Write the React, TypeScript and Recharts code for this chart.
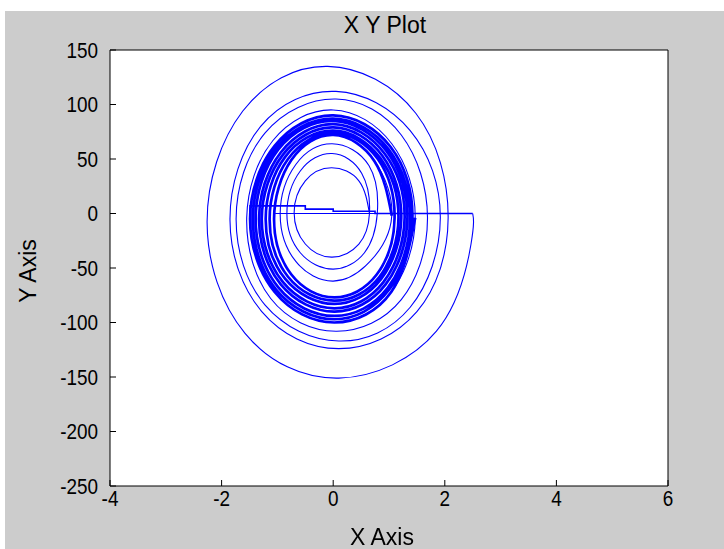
import React from 'react';
import { LineChart, Line, XAxis, YAxis, CartesianGrid } from 'recharts';

const xTicks = [-4, -2, 0, 2, 4, 6];
const yTicks = [-250, -200, -150, -100, -50, 0, 50, 100, 150];

// outer turns of the spiral, starting at (2.5, 0) and going clockwise
const outerTurns: [number, number][] = [
  [2.5, 0], [2.47, -28], [1.85, -108], [0.1, -151], [-1.58, -110], [-2.26, -8], [-1.62, 94], [-0.1, 135], [1.48, 92],
  [2.06, -4], [1.5, -90], [0.1, -124], [-1.28, -90], [-1.85, -6], [-1.3, 80], [0.05, 112], [1.38, 76],
  [1.92, -4], [1.38, -86], [0.1, -117], [-1.22, -84], [-1.74, -5], [-1.22, 74], [0.05, 105], [1.22, 72],
  [1.69, -4], [1.22, -79], [0.05, -108], [-1.12, -78], [-1.55, -4], [-1.08, 67], [0, 95], [1.05, 64],
  [1.47, -4],
];

// the dense ring
const bandTurns: [number, number][] = [
  [1.47, -4], [1.04, -72], [0.02, -100], [-1.05, -72], [-1.49, -5], [-1.05, 62], [0, 90], [1.03, 61],
  [1.42, -4], [1.0, -70], [0.02, -97], [-1.02, -70], [-1.44, -5], [-1.02, 60], [0, 87], [0.99, 59],
  [1.38, -4], [0.98, -68], [0.02, -94], [-0.98, -68], [-1.39, -5], [-0.98, 59], [0, 85], [0.96, 57],
  [1.33, -4], [0.94, -65], [0.02, -90], [-0.94, -65], [-1.33, -5], [-0.94, 56], [0, 82], [0.92, 55],
  [1.28, -4], [0.9, -63], [0.02, -87], [-0.9, -63], [-1.28, -5], [-0.9, 54], [0, 79], [0.88, 53],
  [1.22, -4], [0.86, -60], [0.02, -83], [-0.86, -60], [-1.21, -5], [-0.86, 52], [0, 76], [0.84, 51],
  [1.17, -4], [0.83, -58], [0.02, -80], [-0.81, -58], [-1.14, -5], [-0.81, 50], [0, 74], [0.8, 50],
  [1.1, -4], [0.78, -56], [0.02, -77], [-0.75, -56], [-1.06, -5], [-0.75, 49], [0, 72], [0.74, 48],
  [1.05, -2],
];

// innermost rings
const innerTurns: [number, number][] = [
  [1.05, -2], [0.66, -44], [0, -62], [-0.67, -44], [-0.95, 0], [-0.67, 45], [-0.02, 64], [0.64, 44],
  [0.79, 0], [0.56, -36], [0, -51], [-0.59, -36], [-0.83, 0], [-0.59, 39], [-0.02, 55], [0.51, 37],
  [0.65, 0], [0.46, -28], [-0.02, -40], [-0.5, -28], [-0.7, 1], [-0.5, 30], [-0.03, 42], [0.46, 30],
  [0.65, 0],
];

// horizontal reset steps near y = 0
const resetStep: [number, number][] = [
  [-1.49, 0], [-1.49, 7], [-0.5, 7], [-0.5, 4], [0, 4], [0, 2], [0.75, 2], [0.75, 0], [2.5, 0],
];
const resetLow: [number, number][] = [[-1.04, 0], [0.75, 0]];

const toPoints = (pts: [number, number][]) => pts.map(([x, y]) => ({ x, y }));
const spiral = toPoints([...outerTurns, ...bandTurns.slice(1), ...innerTurns.slice(1)]);

const font = '"Liberation Sans", Arial, sans-serif';

const NarrowTick = (props: any) => {
  const { x, y, payload, textAnchor, orientation } = props;
  const dy = orientation === 'bottom' ? '0.71em' : '0.355em';
  return (
    <text
      x={x}
      y={y}
      dy={dy}
      textAnchor={textAnchor}
      fill="#000"
      fontSize={22}
      fontFamily={font}
      transform={`translate(${x} ${y}) scale(0.86 1) translate(${-x} ${-y})`}
    >
      {payload.value}
    </text>
  );
};

const labelStyle: React.CSSProperties = {
  position: 'absolute', width: 200, textAlign: 'center', fontFamily: font, fontSize: 23, color: '#000', whiteSpace: 'nowrap',
};

export default function App() {
  return (
    <div style={{ position: 'fixed', left: 5, top: 11, width: 719, height: 538, background: '#cccccc' }}>
      <LineChart width={719} height={538} margin={{ top: 38, right: 55, left: 45, bottom: 33 }}>
        <CartesianGrid horizontal={false} vertical={false} fill="#ffffff" />
        <XAxis
          type="number"
          dataKey="x"
          domain={[-4, 6]}
          ticks={xTicks}
          allowDataOverflow
          height={30}
          tickSize={-6}
          tickMargin={10}
          tick={<NarrowTick />}
          stroke="#000"
        />
        <XAxis
          xAxisId="top"
          orientation="top"
          type="number"
          domain={[-4, 6]}
          ticks={xTicks}
          height={1}
          tickSize={-6}
          tick={false}
          stroke="#000"
        />
        <YAxis
          type="number"
          domain={[-250, 150]}
          ticks={yTicks}
          allowDataOverflow
          width={60}
          tickSize={-6}
          tickMargin={18}
          tick={<NarrowTick />}
          stroke="#000"
        />
        <YAxis
          yAxisId="right"
          orientation="right"
          type="number"
          domain={[-250, 150]}
          ticks={yTicks}
          width={1}
          tickSize={-6}
          tick={false}
          stroke="#000"
        />
        <Line data={spiral} dataKey="y" type="natural" stroke="#0000ff" strokeWidth={1.1} dot={false} activeDot={false} isAnimationActive={false} />
        <Line data={toPoints(bandTurns)} dataKey="y" type="natural" stroke="#0000ff" strokeWidth={2.7} dot={false} activeDot={false} isAnimationActive={false} />
        <Line data={toPoints(resetStep)} dataKey="y" type="linear" stroke="#0000ff" strokeWidth={1.6} dot={false} activeDot={false} isAnimationActive={false} />
        <Line data={toPoints(resetLow)} dataKey="y" type="linear" stroke="#0000ff" strokeWidth={1.2} dot={false} activeDot={false} isAnimationActive={false} />
      </LineChart>
      <div style={{ ...labelStyle, left: 280, top: 1 }}>X Y Plot</div>
      <div style={{ ...labelStyle, left: 277, top: 513 }}>X Axis</div>
      <div style={{ ...labelStyle, left: 23, top: 260, transform: 'translate(-50%, -50%) rotate(-90deg)' }}>Y Axis</div>
    </div>
  );
}
